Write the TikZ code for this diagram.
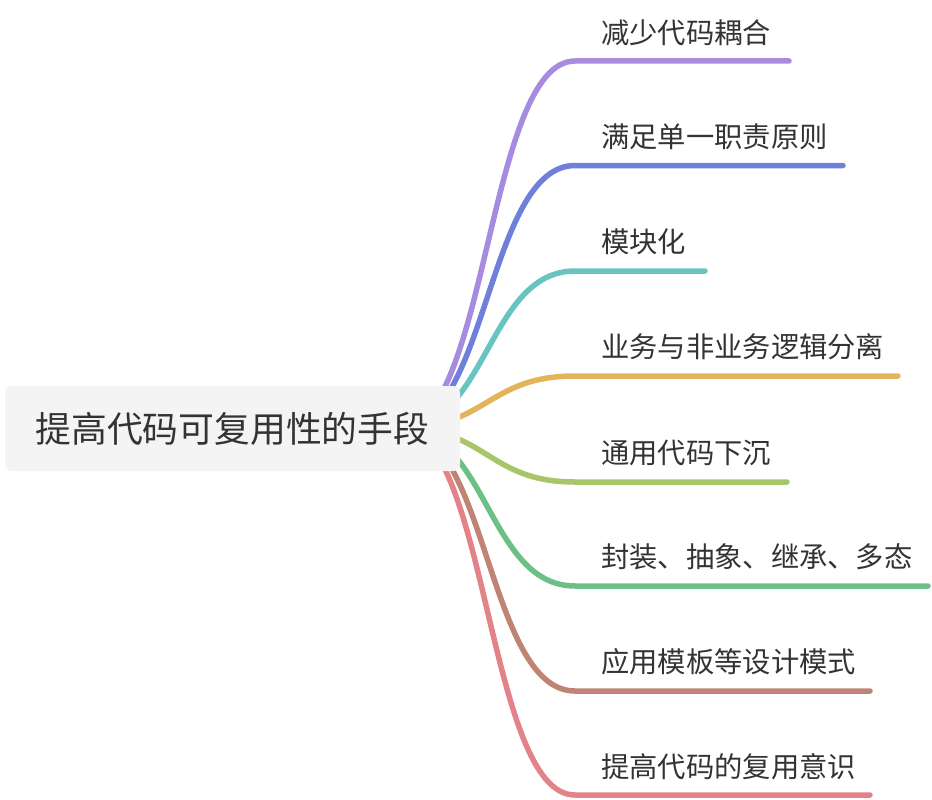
\documentclass[tikz,border=0pt]{standalone}
\usepackage{fontspec}
\setmainfont{Noto Sans CJK SC}
\definecolor{cA}{HTML}{A68BE0}
\definecolor{cB}{HTML}{6E80DA}
\definecolor{cC}{HTML}{68C4C2}
\definecolor{cD}{HTML}{E2B55A}
\definecolor{cE}{HTML}{A8C56A}
\definecolor{cF}{HTML}{6DC085}
\definecolor{cG}{HTML}{C08474}
\definecolor{cH}{HTML}{E4828A}
\definecolor{txt}{HTML}{333333}
\definecolor{rootfill}{HTML}{F4F4F4}
\tikzset{
  branch/.style={line width=5.5pt, line cap=round},
  leaf/.style={anchor=west, inner sep=0pt, text=txt, font=\fontsize{28.3}{30}\selectfont},
  rootbox/.style={fill=rootfill, rounded corners=7pt, minimum width=455pt, minimum height=85pt, inner sep=0pt, text=txt, font=\fontsize{35.8}{40}\selectfont}
}
\begin{document}
\begin{tikzpicture}[x=1pt,y=-1pt]
\useasboundingbox (0,0) rectangle (932,800);
\coordinate (hub) at (400,428);
% label nodes
\node[leaf] (c1) at (601,33)  {减少代码耦合};
\node[leaf] (c2) at (601,137) {满足单一职责原则};
\node[leaf] (c3) at (601,242) {模块化};
\node[leaf] (c4) at (601,347) {业务与非业务逻辑分离};
\node[leaf] (c5) at (601,453) {通用代码下沉};
\node[leaf] (c6) at (601,557) {封装、抽象、继承、多态};
\node[leaf] (c7) at (601,662) {应用模板等设计模式};
\node[leaf] (c8) at (601,767) {提高代码的复用意识};
% underline coordinates
\foreach \i/\y/\e in {1/61/789,2/165.5/843,3/271/705,4/376/898,5/482/787,6/586/928,7/691/870,8/795/870}{
  \coordinate (s\i) at (575,\y);
  \coordinate (e\i) at (\e,\y);
  \coordinate (k\i) at (487.5,\y);
}
\coordinate (k0) at (487.5,428);
\foreach \i/\c in {1/cA,2/cB,3/cC,4/cD,5/cE,6/cF,7/cG,8/cH}{
  \draw[branch,draw=\c] (hub) .. controls (k0) and (k\i) .. (s\i) -- (e\i);
}
\node[rootbox] (root) at (232.5,428.5) {提高代码可复用性的手段};
\end{tikzpicture}
\end{document}
